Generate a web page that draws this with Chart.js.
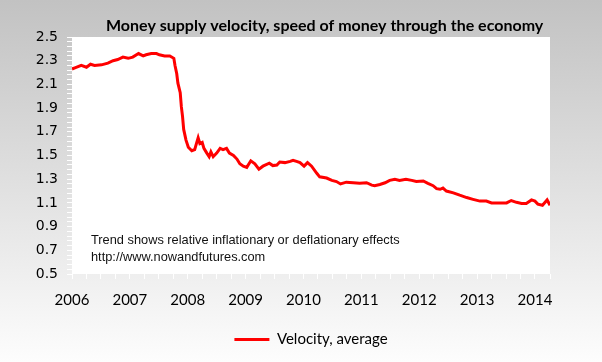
<!DOCTYPE html>
<html>
<head>
<meta charset="utf-8">
<script src="https://cdn.jsdelivr.net/npm/chart.js@4.4.1/dist/chart.umd.min.js"></script>
<style>
  html, body { margin: 0; padding: 0; }
  body { width: 602px; height: 362px; background: linear-gradient(#c2c2c2, #fdfdfd); overflow: hidden; }
</style>
</head>
<body>
<canvas id="myChart" width="602" height="362"></canvas>
<script>
// values (decimal year, velocity)
const years = [
  2006.00, 2006.05, 2006.16, 2006.25, 2006.32, 2006.39, 2006.51, 2006.62, 2006.71, 2006.79,
  2006.88, 2006.97, 2007.05, 2007.15, 2007.23, 2007.28, 2007.37, 2007.46, 2007.51, 2007.60,
  2007.69, 2007.76, 2007.78, 2007.81, 2007.83, 2007.87, 2007.89, 2007.91, 2007.93, 2007.97,
  2008.01, 2008.07, 2008.12, 2008.15, 2008.18, 2008.21, 2008.25, 2008.28, 2008.33, 2008.37,
  2008.40, 2008.44, 2008.50, 2008.56, 2008.61, 2008.67, 2008.72, 2008.79, 2008.85, 2008.90,
  2008.96, 2009.02, 2009.09, 2009.16, 2009.23, 2009.30, 2009.41, 2009.47, 2009.54, 2009.59,
  2009.68, 2009.77, 2009.82, 2009.88, 2009.94, 2010.01, 2010.07, 2010.14, 2010.23, 2010.28,
  2010.40, 2010.49, 2010.57, 2010.64, 2010.74, 2010.86, 2010.97, 2011.09, 2011.18, 2011.23,
  2011.32, 2011.41, 2011.49, 2011.58, 2011.66, 2011.77, 2011.87, 2011.95, 2012.07, 2012.15,
  2012.24, 2012.30, 2012.36, 2012.41, 2012.47, 2012.59, 2012.70, 2012.82, 2012.93, 2013.05,
  2013.16, 2013.25, 2013.39, 2013.51, 2013.59, 2013.68, 2013.77, 2013.85, 2013.94, 2014.00,
  2014.05, 2014.13, 2014.21, 2014.26
];
const velocity = [
  2.23, 2.24, 2.26, 2.245, 2.27, 2.26, 2.265, 2.28, 2.30, 2.31,
  2.33, 2.32, 2.33, 2.36, 2.34, 2.35, 2.36, 2.36, 2.35, 2.34,
  2.34, 2.32, 2.26, 2.19, 2.11, 2.03, 1.91, 1.83, 1.72, 1.63,
  1.57, 1.54, 1.55, 1.60, 1.65, 1.60, 1.61, 1.56, 1.52, 1.49,
  1.53, 1.49, 1.52, 1.56, 1.55, 1.56, 1.52, 1.50, 1.47, 1.43,
  1.41, 1.40, 1.455, 1.43, 1.385, 1.41, 1.435, 1.415, 1.42, 1.445,
  1.44, 1.45, 1.46, 1.45, 1.44, 1.41, 1.44, 1.41, 1.35, 1.32,
  1.31, 1.29, 1.28, 1.26, 1.275, 1.27, 1.265, 1.27, 1.25, 1.245,
  1.255, 1.27, 1.29, 1.30, 1.29, 1.30, 1.29, 1.28, 1.285, 1.265,
  1.245, 1.22, 1.215, 1.225, 1.20, 1.185, 1.165, 1.145, 1.13, 1.115,
  1.115, 1.10, 1.10, 1.10, 1.12, 1.105, 1.095, 1.095, 1.125, 1.115,
  1.09, 1.08, 1.125, 1.08
];
const yearLabels = [2006, 2007, 2008, 2009, 2010, 2011, 2012, 2013, 2014];
const seriesName = 'Velocity, average';
const chartTitle = 'Money supply velocity, speed of money through the economy';
const noteLines = ['Trend shows relative inflationary or deflationary effects', 'http://www.nowandfutures.com'];

// white plot area on the grey gradient
const plotBackground = {
  id: 'plotBackground',
  beforeDraw(chart) {
    const { ctx, chartArea: a } = chart;
    ctx.save();
    ctx.fillStyle = '#ffffff';
    ctx.fillRect(a.left, a.top, a.width, a.height);
    ctx.restore();
  }
};

// title above plot + note inside plot
const texts = {
  id: 'texts',
  afterDraw(chart) {
    const ctx = chart.ctx;
    ctx.save();
    ctx.fillStyle = '#000';
    ctx.textBaseline = 'middle';
    ctx.font = 'bold 16px Lato';
    ctx.textAlign = 'left';
    ctx.fillText(chartTitle, 106, 26);
    ctx.font = '12.8px "Liberation Sans"';
    ctx.fillStyle = '#111';
    ctx.fillText(noteLines[0], 91, 240);
    ctx.fillText(noteLines[1], 91, 257);
    ctx.restore();
  }
};

const ctx = document.getElementById('myChart');
let myChart = new Chart(ctx, {
  type: 'line',
  data: {
    datasets: [{
      label: seriesName,
      data: years.map((y, i) => ({ x: y, y: velocity[i] })),
      borderColor: '#ff0000',
      backgroundColor: '#ff0000',
      borderWidth: 3,
      pointRadius: 0,
      tension: 0
    }]
  },
  options: {
    responsive: false,
    animation: false,
    layout: { padding: { top: 37, right: 52, left: 0, bottom: 5 } },
    plugins: {
      title: { display: false },
      tooltip: { enabled: false },
      legend: {
        position: 'bottom',
        fullSize: false,
        labels: {
          usePointStyle: true,
          pointStyle: 'line',
          pointStyleWidth: 35,
          padding: 10,
          color: '#000',
          font: { family: 'Lato', size: 15 }
        }
      }
    },
    scales: {
      x: {
        type: 'linear',
        min: 2006,
        max: 2014.26,
        afterFit(scale) { scale.height = 48; },
        border: { display: false },
        grid: { drawOnChartArea: false, drawTicks: true, tickLength: 5, color: '#ffffff' },
        ticks: {
          stepSize: 0.25,
          autoSkip: false,
          maxRotation: 0,
          minRotation: 0,
          padding: 12,
          color: '#000',
          font: { family: 'Lato', size: 15 },
          callback(v) {
            const r = Math.round(v);
            return Math.abs(v - r) < 1e-6 && yearLabels.includes(r) ? String(r) : '';
          }
        }
      },
      y: {
        min: 0.5,
        max: 2.5,
        afterFit(scale) { scale.width = 72; },
        border: { display: false },
        grid: { drawOnChartArea: false, drawTicks: true, tickLength: 5, color: '#ffffff' },
        ticks: {
          stepSize: 0.04,
          autoSkip: false,
          padding: 9,
          color: '#000',
          font: { family: 'DejaVu Sans', size: 14 },
          callback(v) {
            const k = (v - 0.5) / 0.2;
            return Math.abs(k - Math.round(k)) < 1e-6 ? v.toFixed(1) : '';
          }
        }
      }
    }
  },
  plugins: [plotBackground, texts]
});
</script>
</body>
</html>
